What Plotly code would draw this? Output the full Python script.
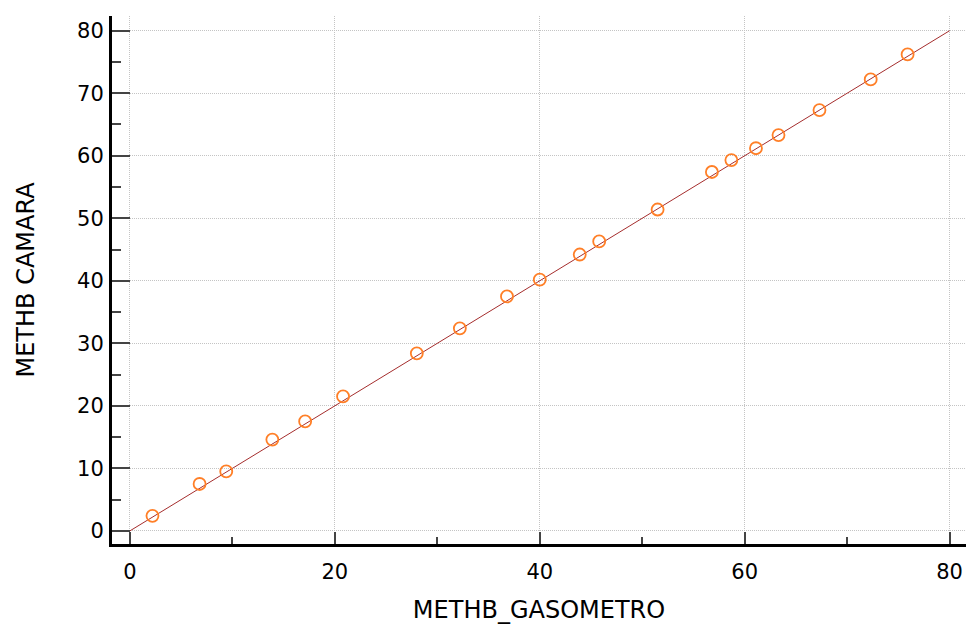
import plotly.graph_objects as go

# Data
methb_gasometro = [2.2, 6.8, 9.4, 13.9, 17.1, 20.8, 28.0, 32.2, 36.8, 40.0,
                   43.9, 45.8, 51.5, 56.8, 58.7, 61.1, 63.3, 67.3, 72.3, 75.9]
methb_camara = [2.4, 7.5, 9.5, 14.6, 17.5, 21.5, 28.4, 32.4, 37.5, 40.2,
                44.2, 46.3, 51.4, 57.4, 59.3, 61.2, 63.3, 67.3, 72.2, 76.2]
identity_x = [0, 80]
identity_y = [0, 80]

x_tickvals = [0, 20, 40, 60, 80]
y_tickvals = [0, 10, 20, 30, 40, 50, 60, 70, 80]

fig = go.Figure()
fig.add_trace(go.Scatter(
    x=identity_x, y=identity_y, mode="lines",
    line=dict(color="rgb(165,45,45)", width=1),
    hoverinfo="skip", showlegend=False,
))
fig.add_trace(go.Scatter(
    x=methb_gasometro, y=methb_camara, mode="markers",
    marker=dict(symbol="circle-open", size=12,
                line=dict(color="rgb(255,127,39)", width=1.8),
                color="rgb(255,127,39)"),
    showlegend=False,
))

tick_font = dict(family="DejaVu Sans", size=21, color="black")
title_font = dict(family="DejaVu Sans", size=24, color="black")

fig.update_layout(
    width=967, height=624,
    margin=dict(l=112, r=1, t=16, b=80, autoexpand=False),
    plot_bgcolor="white", paper_bgcolor="white",
    xaxis=dict(
        range=[-1.75, 81.6],
        tickvals=x_tickvals,
        ticks="inside", ticklen=12, tickwidth=2, tickcolor="#444",
        minor=dict(dtick=10, tick0=0, ticks="inside", ticklen=7,
                   tickwidth=2, tickcolor="#444", showgrid=False),
        showline=True, linecolor="black", linewidth=3,
        showgrid=True, gridcolor="#c4c4c4", gridwidth=1, griddash="1px,1px",
        zeroline=False,
        tickfont=tick_font,
        ticklabelstandoff=7,
        title=dict(text="METHB_GASOMETRO", font=title_font, standoff=19),
        automargin=False,
    ),
    yaxis=dict(
        range=[-2.1, 82.35],
        tickvals=y_tickvals,
        ticks="inside", ticklen=18, tickwidth=2, tickcolor="#444",
        minor=dict(dtick=5, tick0=0, ticks="inside", ticklen=9,
                   tickwidth=2, tickcolor="#444", showgrid=False),
        showline=True, linecolor="black", linewidth=3,
        showgrid=True, gridcolor="#c4c4c4", gridwidth=1, griddash="1px,1px",
        zeroline=False,
        tickfont=tick_font,
        ticklabelstandoff=1,
        title=dict(text="METHB CAMARA", font=title_font, standoff=36),
        automargin=False,
    ),
)

fig.write_html(
    "out.html",
    config={"displayModeBar": False},
    post_script="document.body.style.margin='0';document.body.style.overflow='hidden';",
)
